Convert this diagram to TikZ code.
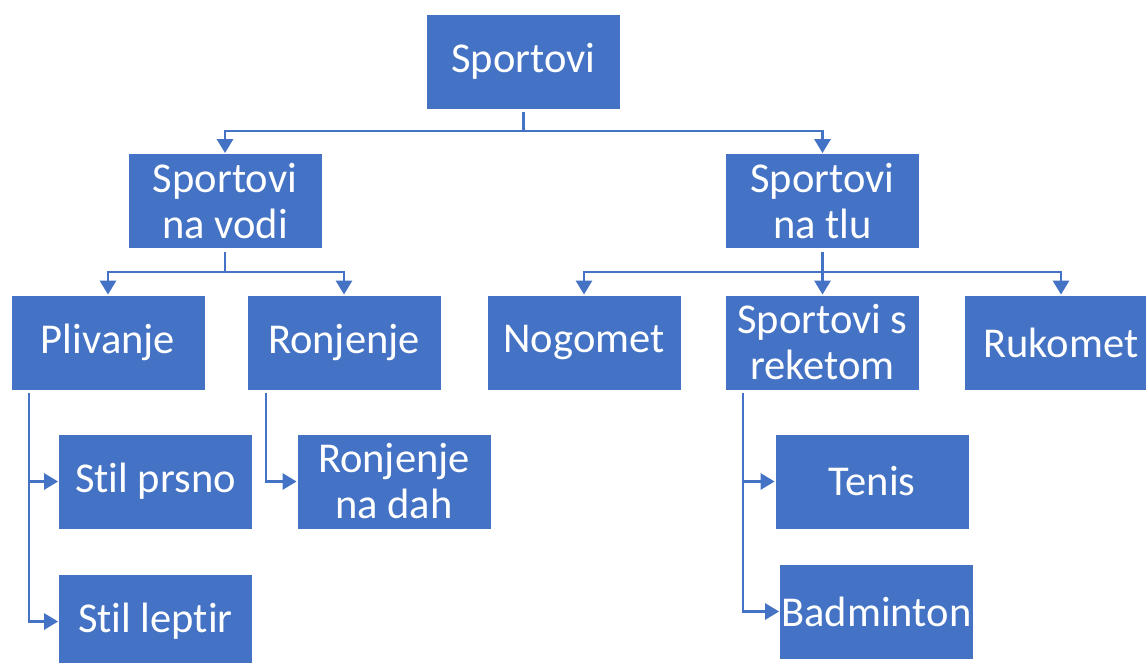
\documentclass[tikz,border=0pt]{standalone}
\usepackage{fontspec}
\setmainfont{Carlito}[Ligatures=NoCommon]
\usetikzlibrary{arrows.meta}
\definecolor{boxblue}{HTML}{4472C4}
\tikzset{
  box/.style={rectangle, fill=boxblue, draw=white, line width=0.8pt,
    minimum width=194pt, minimum height=95pt, inner sep=0pt,
    text=white, align=center,
    font=\fontsize{42.5}{46}\selectfont},
  conn/.style={draw=boxblue, line width=2.8pt,
    -{Triangle[width=16pt,length=14pt]}, shorten <=3pt}
}
\begin{document}
\begin{tikzpicture}[x=1pt,y=-1pt]
\useasboundingbox (0,0) rectangle (1146,663);
\clip (0,0) rectangle (1146,663);
% nodes
\node[box] (sp) at (523.5,61.5) {Sportovi};
\node[box] (sv) at (225,201) {Sportovi\\na vodi};
\node[box] (st) at (822.5,201) {Sportovi\\na tlu};
\node[box] (pl) at (108,342.5) {Plivanje};
\node[box] (ro) at (344,342.5) {Ronjenje};
\node[box] (no) at (584,342.5) {Nogomet};
\node[box] (re) at (822.5,342.5) {Sportovi s\\reketom};
\node[box] (ru) at (1061,342.5) {Rukomet};
\node[box] (sp1) at (155.5,481.5) {Stil prsno};
\node[box] (rd) at (394,481.5) {Ronjenje\\na dah};
\node[box] (sl) at (155.5,621.5) {Stil leptir};
\node[box] (te) at (872,481.5) {Tenis};
\node[box] (ba) at (876.5,611.5) {Badminton};
% helper coordinates
\coordinate (y1) at (0,131);
\coordinate (y2) at (0,272);
\coordinate (xpl) at (29,0);
\coordinate (xro) at (266,0);
\coordinate (xre) at (743,0);
% connectors
\draw[conn] (sp.south) -- (sp.south |- y1) -| (sv.north);
\draw[conn] (sp.south) -- (sp.south |- y1) -| (st.north);
\draw[conn] (sv.south) -- (sv.south |- y2) -| (pl.north);
\draw[conn] (sv.south) -- (sv.south |- y2) -| (ro.north);
\draw[conn] (st.south) -- (st.south |- y2) -| (no.north);
\draw[conn] (st.south) -- (re.north);
\draw[conn] (st.south) -- (st.south |- y2) -| (ru.north);
\draw[conn] (pl.south -| xpl) |- (sp1.west);
\draw[conn] (pl.south -| xpl) |- (sl.west);
\draw[conn] (ro.south -| xro) |- (rd.west);
\draw[conn] (re.south -| xre) |- (te.west);
\draw[conn] (re.south -| xre) |- (ba.west);
\end{tikzpicture}
\end{document}
